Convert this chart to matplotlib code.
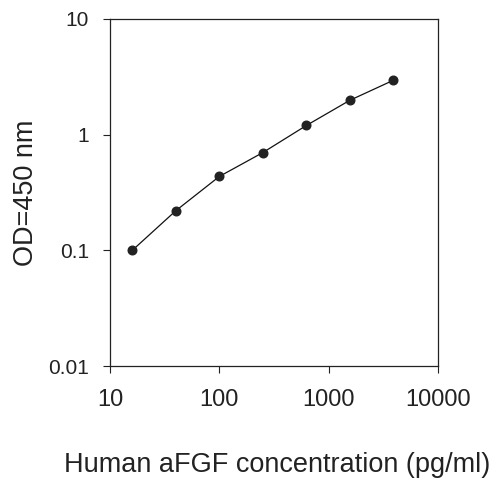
import numpy as np
import matplotlib.pyplot as plt

plt.rcParams['font.family'] = ['Liberation Sans', 'DejaVu Sans']

# standard curve values
conc = [16, 40, 100, 250, 625, 1560, 3900]
od = [0.10, 0.22, 0.435, 0.70, 1.20, 1.98, 2.95]

xticks = [10, 100, 1000, 10000]
xticklabels = ['10', '100', '1000', '10000']
yticks = [0.01, 0.1, 1, 10]
yticklabels = ['0.01', '0.1', '1', '10']

fig = plt.figure(figsize=(5.0, 4.84), dpi=100)
ax = fig.add_axes([0.22, 0.2438, 0.656, 0.717])

ax.plot(conc, od, color='#111111', lw=0.9, marker='o', ms=6.2,
        mfc='#222222', mec='#222222')

ax.set_xscale('log')
ax.set_yscale('log')
ax.set_xlim(10, 10000)
ax.set_ylim(0.01, 10)
ax.set_xticks(xticks)
ax.set_xticklabels(xticklabels)
ax.set_yticks(yticks)
ax.set_yticklabels(yticklabels)
ax.minorticks_off()

ax.tick_params(axis='x', direction='out', length=5, width=0.8,
               labelsize=17, pad=11.5, colors='#222222')
ax.tick_params(axis='y', direction='out', length=5, width=0.8,
               labelsize=15, pad=10, colors='#222222')
for s in ax.spines.values():
    s.set_linewidth(0.9)
    s.set_color('#222222')

ax.set_xlabel('Human aFGF concentration (pg/ml)', fontsize=19.5,
              color='#222222')
ax.xaxis.label.set_va('baseline')
ax.xaxis.set_label_coords(0.509, -0.3055)
ax.set_ylabel('OD=450 nm', fontsize=19.5, color='#222222')
ax.yaxis.label.set_va('baseline')
ax.yaxis.set_label_coords(-0.235, 0.5)

plt.savefig('out.png', dpi=100)
